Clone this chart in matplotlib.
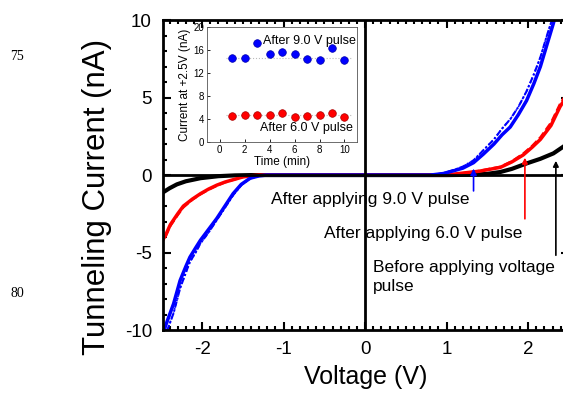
import matplotlib.pyplot as plt
from matplotlib.ticker import MultipleLocator

plt.rcParams['font.family'] = ['Liberation Sans', 'DejaVu Sans']
plt.rcParams['axes.unicode_minus'] = False

# main I-V curves (V in volts, I in nA)
v_black = [-2.52, -2.4, -2.31, -2.2, -2.02, -1.8, -1.6, -1.4, -1.0, 0.0, 1.0, 1.3, 1.5, 1.66, 1.8, 1.98, 2.15, 2.31, 2.45]
i_black = [-1.25, -0.85, -0.6, -0.4, -0.2, -0.07, -0.02, 0.0, 0.0, 0.0, 0.0, 0.02, 0.08, 0.2, 0.4, 0.75, 1.05, 1.4, 1.9]

v_red = [-2.52, -2.45, -2.39, -2.3, -2.23, -2.12, -2.02, -1.92, -1.82, -1.72, -1.62, -1.5, -1.41, -1.3, -1.0, 0.0, 1.0, 1.15, 1.4, 1.66, 1.8, 1.94, 2.05, 2.15, 2.28, 2.39, 2.45]
i_red = [-4.5, -3.9, -3.2, -2.5, -2.0, -1.55, -1.2, -0.9, -0.65, -0.45, -0.3, -0.12, -0.05, 0.0, 0.0, 0.0, 0.0, 0.1, 0.25, 0.5, 0.85, 1.3, 1.8, 2.3, 3.2, 4.4, 4.9]

v_blue = [-2.5, -2.42, -2.35, -2.27, -2.2, -2.15, -2.08, -2.02, -1.92, -1.82, -1.72, -1.62, -1.52, -1.41, -1.3, -1.21, -1.0, 0.0, 0.8, 0.96, 1.1, 1.2, 1.33, 1.45, 1.58, 1.68, 1.78, 1.88, 1.98, 2.07, 2.15, 2.23, 2.31, 2.36]
i_blue = [-10.5, -9.3, -8.3, -6.8, -5.9, -5.3, -4.7, -4.2, -3.5, -2.8, -2.0, -1.2, -0.6, -0.2, -0.05, 0.0, 0.0, 0.0, 0.0, 0.1, 0.3, 0.45, 0.8, 1.35, 2.0, 2.6, 3.1, 3.9, 4.8, 5.9, 7.0, 8.4, 9.8, 10.8]
# repeated sweep (dashed / dotted traces)
i_blue2 = [-10.8, -9.9, -8.9, -7.3, -6.3, -5.6, -5.0, -4.4, -3.7, -2.9, -2.1, -1.3, -0.65, -0.22, -0.05, 0.0, 0.0, 0.0, 0.0, 0.12, 0.35, 0.55, 0.95, 1.6, 2.3, 3.0, 3.6, 4.4, 5.4, 6.5, 7.6, 9.0, 10.3, 11.2]
i_red2 = [-4.6, -4.0, -3.3, -2.6, -2.1, -1.6, -1.25, -0.95, -0.7, -0.48, -0.32, -0.13, -0.05, 0.0, 0.0, 0.0, 0.0, 0.1, 0.28, 0.55, 0.9, 1.4, 1.9, 2.45, 3.4, 4.6, 5.1]

# inset: current at +2.5 V vs time
t_min = [1, 2, 3, 4, 5, 6, 7, 8, 9, 10]
cur_9v = [14.7, 14.6, 17.2, 15.4, 15.6, 15.4, 14.4, 14.2, 16.3, 14.3]
cur_6v = [4.5, 4.7, 4.6, 4.6, 5.0, 4.4, 4.5, 4.7, 5.0, 4.4]
mean_9v = 14.6
mean_6v = 4.6

fig = plt.figure(figsize=(5.63, 3.93), dpi=100)
ax = fig.add_axes([0.2895, 0.160, 0.721, 0.789])

ax.plot(v_black, i_black, color='black', lw=3)
ax.plot(v_red, i_red2, color='red', lw=1.5, ls='--')
ax.plot(v_red, i_red, color='red', lw=2.5)
ax.plot(v_blue, i_blue2, color='blue', lw=1.5, ls=(0, (3, 1, 1, 1)))
ax.plot(v_blue, i_blue2, color='blue', lw=1.2, ls=':')
ax.plot(v_blue, i_blue, color='blue', lw=2.5)

ax.axhline(0, color='black', lw=2)
ax.axvline(0, color='black', lw=2)

ax.set_xlim(-2.48, 2.5)
ax.set_ylim(-10, 10)
ax.xaxis.set_major_locator(MultipleLocator(1))
ax.xaxis.set_minor_locator(MultipleLocator(0.1))
ax.yaxis.set_major_locator(MultipleLocator(5))
ax.yaxis.set_minor_locator(MultipleLocator(1))
ax.tick_params(which='both', direction='in', top=True, right=True, width=1.5, labelsize=13.5, pad=8)
ax.tick_params(which='major', length=6)
ax.tick_params(which='minor', length=3)
for s in ax.spines.values():
    s.set_linewidth(2)

ax.set_xlabel('Voltage (V)', fontsize=18, labelpad=5)
ax.set_ylabel('Tunneling Current (nA)', fontsize=22.5)
ax.yaxis.set_label_coords(-0.125, 0.43)

# annotations with arrows
ax.text(-1.15, -1.6, 'After applying 9.0 V pulse', fontsize=12.5, va='center')
ax.text(-0.5, -3.75, 'After applying 6.0 V pulse', fontsize=12.5, va='center')
ax.text(0.1, -6.55, 'Before applying voltage\npulse', fontsize=12.5, va='center', linespacing=1.35)
ax.annotate('', xy=(1.33, 0.6), xytext=(1.33, -1.2),
            arrowprops=dict(arrowstyle='-|>', color='blue', lw=1.2, mutation_scale=9), zorder=5)
ax.annotate('', xy=(1.96, 1.3), xytext=(1.96, -3.0),
            arrowprops=dict(arrowstyle='-|>', color='red', lw=1.2, mutation_scale=8), zorder=5)
ax.annotate('', xy=(2.34, 1.1), xytext=(2.34, -5.35),
            arrowprops=dict(arrowstyle='-|>', color='black', lw=1.2, mutation_scale=8), zorder=5)

# inset
ins = fig.add_axes([0.368, 0.639, 0.266, 0.292])
ins.plot([0.5, 10.5], [mean_9v, mean_9v], color='#bbbbbb', ls=':', lw=0.8)
ins.plot([0.5, 10.5], [mean_6v, mean_6v], color='#bbbbbb', ls=':', lw=0.8)
ins.scatter(t_min, cur_9v, s=30, color='blue', edgecolors='#0000aa', linewidths=0.5, zorder=3)
ins.scatter(t_min, cur_6v, s=30, color='red', edgecolors='#aa0000', linewidths=0.5, zorder=3)
ins.set_xlim(-1, 11)
ins.set_ylim(0, 20)
ins.set_xticks([0, 2, 4, 6, 8, 10])
ins.set_yticks([0, 4, 8, 12, 16, 20])
ins.tick_params(direction='in', labelsize=7, length=2, width=0.6, pad=2)
for s in ins.spines.values():
    s.set_linewidth(0.6)
    s.set_color('#555555')
ins.set_xlabel('Time (min)', fontsize=8.5, labelpad=1)
ins.set_ylabel('Current at +2.5V (nA)', fontsize=8.5, labelpad=2)
ins.text(10.9, 17.6, 'After 9.0 V pulse', fontsize=9, ha='right', va='center')
ins.text(10.7, 2.5, 'After 6.0 V pulse', fontsize=9, ha='right', va='center')

# manuscript line numbers
fig.text(0.018, 0.855, '75', family='Liberation Serif', fontsize=10, va='center')
fig.text(0.018, 0.253, '80', family='Liberation Serif', fontsize=10, va='center')

fig.savefig('out.png', dpi=100)
